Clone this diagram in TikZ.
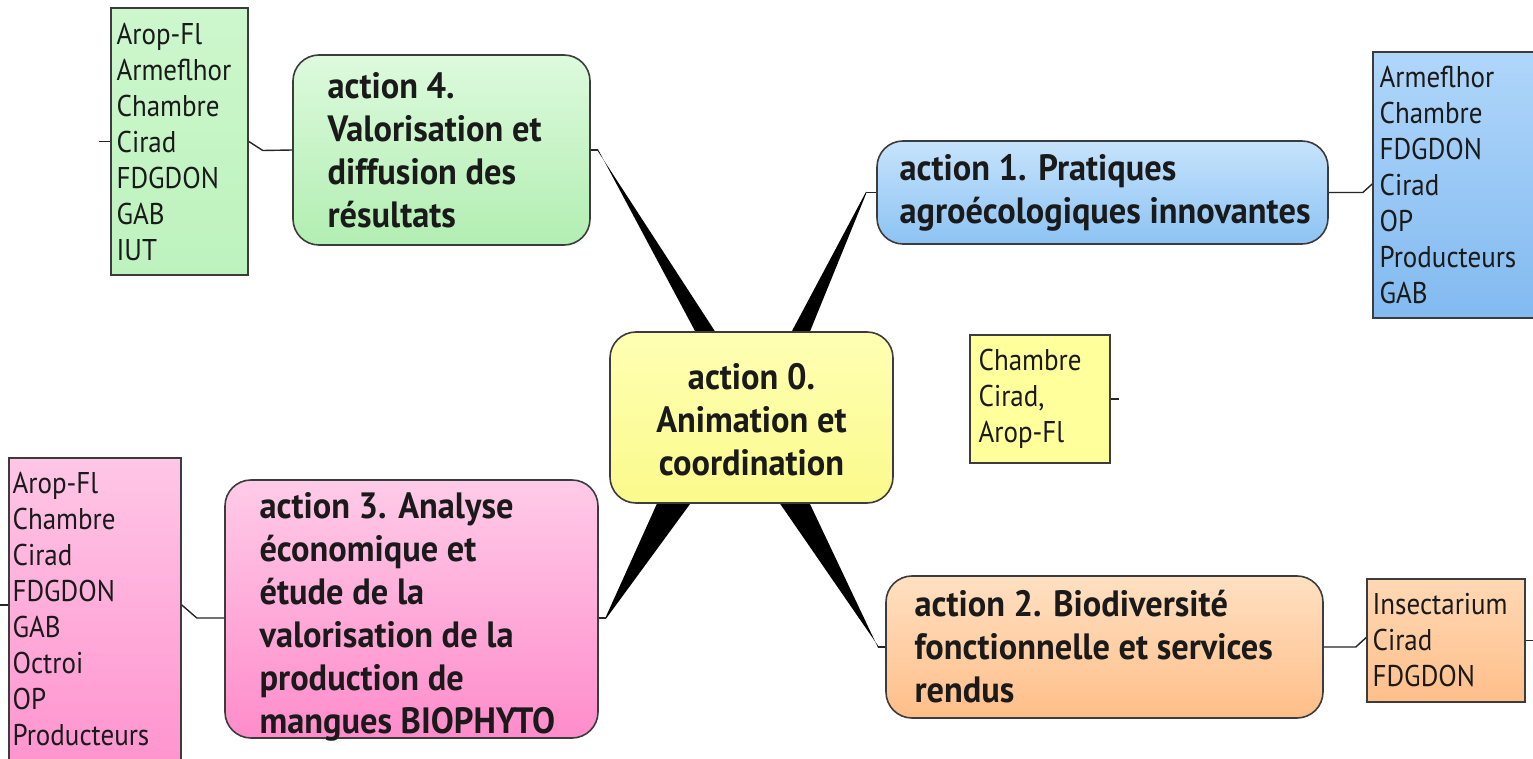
\documentclass[tikz,border=0pt]{standalone}
\usepackage{fontspec}
\setmainfont{PT Sans}
\newfontfamily\titlef{PT Sans}[FakeStretch=0.94]
\newfontfamily\partf{PT Sans}[FakeStretch=0.9]
\usetikzlibrary{calc}
\pgfdeclarelayer{bg}
\pgfsetlayers{bg,main}
\definecolor{bordc}{HTML}{3C3C3C}
\definecolor{gtop}{HTML}{DDFADD}
\definecolor{gbot}{HTML}{B2EEB2}
\definecolor{gptop}{HTML}{CDF7CD}
\definecolor{gpbot}{HTML}{BDF2BD}
\definecolor{btop}{HTML}{C6E3FC}
\definecolor{bbot}{HTML}{8CC3F3}
\definecolor{bptop}{HTML}{B0D6FA}
\definecolor{bpbot}{HTML}{82BAF0}
\definecolor{ytop}{HTML}{FFFFB4}
\definecolor{ybot}{HTML}{FAFA8C}
\definecolor{yp}{HTML}{FFFF9C}
\definecolor{ptop}{HTML}{FFCBE8}
\definecolor{pbot}{HTML}{FF8CCB}
\definecolor{pptop}{HTML}{FFC6E6}
\definecolor{ppbot}{HTML}{FF92CE}
\definecolor{otop}{HTML}{FFE0C2}
\definecolor{obot}{HTML}{FFBE88}
\definecolor{optop}{HTML}{FFD8B4}
\definecolor{opbot}{HTML}{FFBF8A}
\definecolor{txt}{HTML}{1A1A1A}
\tikzset{
  abox/.style={draw=bordc, line width=0.8pt, rounded corners=13pt, inner sep=0pt},
  pbox/.style={draw=bordc, line width=0.8pt, inner sep=0pt},
  atext/.style={inner sep=0pt, align=left, text=txt, font=\titlef\bfseries\fontsize{18.3}{21.5}\selectfont},
  ptext/.style={inner sep=0pt, align=left, text=txt, font=\partf\fontsize{15}{18}\selectfont},
  conn/.style={line width=0.7pt, draw=black!85},
  wedgefill/.style={fill=black}
}
\begin{document}
\begin{tikzpicture}[x=0.5pt,y=-0.5pt]
\useasboundingbox (0,0) rectangle (1533,759);
\begin{pgfonlayer}{bg}
\fill[white] (0,0) rectangle (1533,759);
\end{pgfonlayer}

% main action boxes
\node[abox, top color=ytop, bottom color=ybot, minimum width=141.5pt, minimum height=85.5pt] (a0) at (751.5,417.5) {};
\node[atext, align=center] (a0t) at ([yshift=-1pt]a0.center) {action 0.\\Animation et\\coordination};

\node[abox, top color=gtop, bottom color=gbot, minimum width=148.5pt, minimum height=95pt] (a4) at (441.5,150) {};
\node[atext, anchor=west] (a4t) at ([xshift=17.5pt]a4.west) {action 4.\\Valorisation et\\diffusion des\\résultats};

\node[abox, top color=btop, bottom color=bbot, minimum width=225.5pt, minimum height=51.5pt] (a1) at (1102.5,192.5) {};
\node[atext, anchor=west] (a1t) at ([xshift=11.5pt]a1.west) {action 1. Pratiques\\agroécologiques innovantes};

\node[abox, top color=ptop, bottom color=pbot, minimum width=186.5pt, minimum height=129pt] (a3) at (411.5,609) {};
\node[atext, anchor=west] (a3t) at ([xshift=17.5pt,yshift=-4pt]a3.west) {action 3. Analyse\\économique et\\étude de la\\valorisation de la\\production de\\mangues BIOPHYTO};

\node[abox, top color=otop, bottom color=obot, minimum width=218.5pt, minimum height=71pt] (a2) at (1104.5,647) {};
\node[atext, anchor=west] (a2t) at ([xshift=14.5pt]a2.west) {action 2. Biodiversité\\fonctionnelle et services\\rendus};

% partner boxes
\node[pbox, top color=gptop, bottom color=gpbot, minimum width=68.5pt, minimum height=133.5pt] (p4) at (179.5,141.5) {};
\node[ptext, anchor=west] (p4t) at ([xshift=3pt]p4.west) {Arop-Fl\\Armeflhor\\Chambre\\Cirad\\FDGDON\\GAB\\IUT};

\node[pbox, top color=bptop, bottom color=bpbot, minimum width=88.5pt, minimum height=133pt] (p1) at (1461.5,185) {};
\node[ptext, anchor=west] (p1t) at ([xshift=3.5pt]p1.west) {Armeflhor\\Chambre\\FDGDON\\Cirad\\OP\\Producteurs\\GAB};

\node[pbox, fill=yp, minimum width=70pt, minimum height=64pt] (p0) at (1040,399) {};
\node[ptext, anchor=west] (p0t) at ([xshift=4.5pt]p0.west) {Chambre\\Cirad,\\Arop-Fl};

\node[pbox, top color=pptop, bottom color=ppbot, minimum width=86pt, minimum height=158.5pt] (p3) at (95,616.5) {};
\node[ptext, anchor=west] (p3t) at ([xshift=2pt,yshift=3.75pt]p3.west) {Arop-Fl\\Chambre\\Cirad\\FDGDON\\GAB\\Octroi\\OP\\Producteurs};

\node[pbox, top color=optop, bottom color=opbot, minimum width=79pt, minimum height=61.5pt] (p2) at (1446,640.5) {};
\node[ptext, anchor=west] (p2t) at ([xshift=3pt]p2.west) {Insectarium\\Cirad\\FDGDON};

% thin connectors to partner boxes
\draw[conn] (p4.east) -- ++(14,9) -- (a4.west);
\draw[conn] (p4.west) -- ++(-11,0);
\draw[conn] (a1.east) -- ++(34,0) -- ([yshift=0.5pt]p1.west);
\draw[conn] (a2.east) -- ++(32,0) -- ([yshift=1.5pt]p2.west);
\draw[conn] (p2.east) -- ++(10,0);
\draw[conn] ([yshift=5.75pt]p3.east) -- ++(15,13) -- ([yshift=-4.5pt]a3.west);
\draw[conn] ([yshift=5.75pt]p3.west) -- ++(-9,0);
\draw[conn] (p0.east) -- ++(8,0);

% short leads and tapered branches to the central box
\draw[conn] (a4.east) -- ++(7,0) coordinate (t4);
\draw[conn] (a1.west) -- ++(-10,0) coordinate (t1);
\draw[conn] ([yshift=-4.5pt]a3.east) -- ++(7,0) coordinate (t3);
\draw[conn] (a2.west) -- ++(-7,0) coordinate (t2);

\coordinate (b4l) at ([xshift=-28.25pt]a0.north);
\coordinate (b4r) at ([xshift=-18.25pt]a0.north);
\coordinate (b1l) at ([xshift=20.25pt]a0.north);
\coordinate (b1r) at ([xshift=29.25pt]a0.north);
\coordinate (b3l) at ([xshift=-47.25pt]a0.south);
\coordinate (b3r) at ([xshift=-30.75pt]a0.south);
\coordinate (b2l) at ([xshift=14.25pt]a0.south);
\coordinate (b2r) at ([xshift=29.25pt]a0.south);

\begin{pgfonlayer}{bg}
\fill[wedgefill] ([yshift=0.5pt]t4) -- ($(t4)!1.25!(b4l)$) -- ($(t4)!1.25!(b4r)$) -- ([yshift=-0.5pt]t4) -- cycle;
\fill[wedgefill] ([yshift=0.5pt]t1) -- ($(t1)!1.25!(b1l)$) -- ($(t1)!1.25!(b1r)$) -- ([yshift=-0.5pt]t1) -- cycle;
\fill[wedgefill] ([yshift=0.5pt]t3) -- ($(t3)!1.3!(b3l)$) -- ($(t3)!1.3!(b3r)$) -- ([yshift=-0.5pt]t3) -- cycle;
\fill[wedgefill] ([yshift=0.5pt]t2) -- ($(t2)!1.3!(b2l)$) -- ($(t2)!1.3!(b2r)$) -- ([yshift=-0.5pt]t2) -- cycle;
\end{pgfonlayer}
\end{tikzpicture}
\end{document}
